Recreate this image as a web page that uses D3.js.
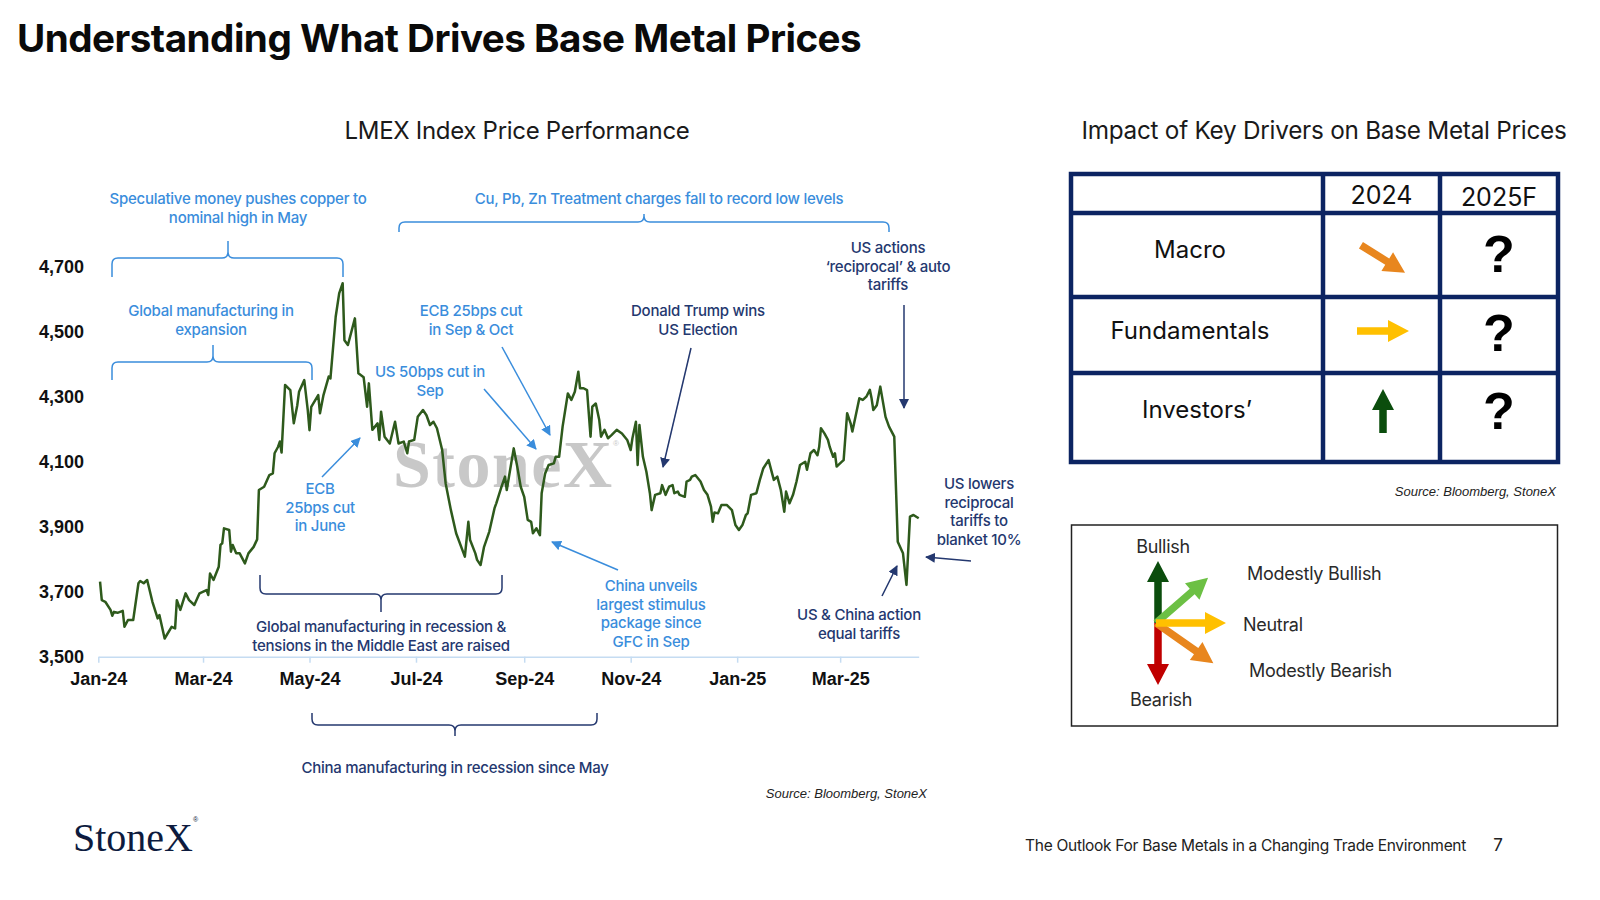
<!DOCTYPE html>
<html lang="en">
<head>
<meta charset="UTF-8"/>
<title>Understanding What Drives Base Metal Prices</title>
<script src="https://d3js.org/d3.v7.min.js"></script>
<style>
  body { margin: 0; background: #fff; }
  svg { display: block; }
</style>
</head>
<body>
<script>

var w = 1600;
var h = 900;

// LMEX index level (date, index)
var lmex = [
  ["2024-01-02",3731],["2024-01-03",3674],["2024-01-05",3669],["2024-01-08",3644],["2024-01-09",3626],
  ["2024-01-10",3638],["2024-01-12",3635],["2024-01-15",3641],["2024-01-16",3592],["2024-01-18",3613],
  ["2024-01-21",3613],["2024-01-24",3726],["2024-01-25",3733],["2024-01-27",3726],["2024-01-29",3736],
  ["2024-02-01",3669],["2024-02-04",3618],["2024-02-05",3628],["2024-02-08",3556],["2024-02-12",3592],
  ["2024-02-14",3587],["2024-02-15",3674],["2024-02-17",3644],["2024-02-20",3695],["2024-02-22",3674],
  ["2024-02-25",3659],["2024-02-28",3695],["2024-03-03",3705],["2024-03-04",3690],["2024-03-05",3756],
  ["2024-03-07",3736],["2024-03-10",3777],["2024-03-11",3844],["2024-03-12",3849],["2024-03-13",3895],
  ["2024-03-16",3890],["2024-03-17",3823],["2024-03-18",3844],["2024-03-20",3818],["2024-03-22",3818],
  ["2024-03-25",3787],["2024-03-27",3818],["2024-03-30",3838],["2024-04-01",3861],["2024-04-02",4013],
  ["2024-04-05",4023],["2024-04-08",4059],["2024-04-10",4064],["2024-04-11",4126],["2024-04-13",4146],
  ["2024-04-14",4162],["2024-04-15",4128],["2024-04-17",4336],["2024-04-20",4320],["2024-04-22",4218],
  ["2024-04-24",4274],["2024-04-25",4315],["2024-04-28",4351],["2024-04-30",4259],["2024-05-01",4197],
  ["2024-05-02",4269],["2024-05-06",4305],["2024-05-07",4249],["2024-05-09",4305],["2024-05-12",4362],
  ["2024-05-13",4356],["2024-05-16",4546],["2024-05-18",4618],["2024-05-20",4649],["2024-05-21",4474],
  ["2024-05-23",4459],["2024-05-27",4541],["2024-05-29",4372],["2024-06-01",4360],["2024-06-03",4269],
  ["2024-06-04",4341],["2024-06-06",4198],["2024-06-09",4218],["2024-06-10",4167],["2024-06-11",4254],
  ["2024-06-13",4177],["2024-06-16",4156],["2024-06-19",4223],["2024-06-21",4156],["2024-06-24",4162],
  ["2024-06-26",4126],["2024-06-27",4162],["2024-06-30",4167],["2024-07-02",4238],["2024-07-05",4259],
  ["2024-07-07",4243],["2024-07-09",4213],["2024-07-11",4223],["2024-07-13",4203],["2024-07-16",4136],
  ["2024-07-18",4033],["2024-07-21",3951],["2024-07-24",3880],["2024-07-29",3808],["2024-07-31",3915],
  ["2024-08-01",3859],["2024-08-04",3818],["2024-08-05",3798],["2024-08-07",3782],["2024-08-09",3838],
  ["2024-08-12",3885],["2024-08-15",3957],["2024-08-16",3972],["2024-08-19",4023],["2024-08-21",4054],
  ["2024-08-22",4013],["2024-08-26",4141],["2024-08-28",4085],["2024-08-30",4023],["2024-09-01",3992],
  ["2024-09-03",3921],["2024-09-05",3915],["2024-09-06",3880],["2024-09-08",3895],["2024-09-10",3874],
  ["2024-09-11",4003],["2024-09-13",4064],["2024-09-15",4090],["2024-09-18",4095],["2024-09-19",4115],
  ["2024-09-21",4115],["2024-09-23",4208],["2024-09-26",4310],["2024-09-28",4290],["2024-09-30",4315],
  ["2024-10-02",4377],["2024-10-03",4326],["2024-10-05",4326],["2024-10-07",4320],["2024-10-09",4177],
  ["2024-10-10",4269],["2024-10-12",4279],["2024-10-14",4228],["2024-10-15",4177],["2024-10-17",4198],
  ["2024-10-19",4172],["2024-10-21",4182],["2024-10-24",4198],["2024-10-27",4187],["2024-10-30",4167],
  ["2024-11-01",4136],["2024-11-02",4172],["2024-11-04",4223],["2024-11-05",4090],["2024-11-06",4213],
  ["2024-11-08",4115],["2024-11-10",4069],["2024-11-12",4003],["2024-11-13",3951],["2024-11-15",3998],
  ["2024-11-18",4003],["2024-11-19",4028],["2024-11-21",3998],["2024-11-23",4023],["2024-11-25",4028],
  ["2024-11-26",4003],["2024-11-28",4008],["2024-11-29",3998],["2024-12-02",3992],["2024-12-03",4039],
  ["2024-12-05",4044],["2024-12-06",4054],["2024-12-08",4059],["2024-12-11",4039],["2024-12-13",4013],
  ["2024-12-15",3998],["2024-12-17",3962],["2024-12-18",3915],["2024-12-19",3944],["2024-12-21",3941],
  ["2024-12-23",3967],["2024-12-26",3967],["2024-12-29",3951],["2024-12-31",3905],["2025-01-02",3890],
  ["2025-01-04",3905],["2025-01-06",3936],["2025-01-07",3941],["2025-01-09",3998],["2025-01-12",4003],
  ["2025-01-14",4044],["2025-01-16",4080],["2025-01-19",4105],["2025-01-21",4064],["2025-01-22",4044],
  ["2025-01-24",4054],["2025-01-26",4013],["2025-01-28",3946],["2025-01-29",4008],["2025-01-31",3972],
  ["2025-02-02",3998],["2025-02-04",4039],["2025-02-06",4090],["2025-02-09",4100],["2025-02-10",4075],
  ["2025-02-12",4126],["2025-02-14",4136],["2025-02-16",4120],["2025-02-17",4146],["2025-02-18",4203],
  ["2025-02-20",4187],["2025-02-22",4167],["2025-02-23",4146],["2025-02-25",4115],["2025-02-26",4126],
  ["2025-02-27",4085],["2025-03-02",4100],["2025-03-03",4105],["2025-03-05",4249],["2025-03-07",4218],
  ["2025-03-08",4193],["2025-03-09",4218],["2025-03-12",4295],["2025-03-14",4290],["2025-03-16",4300],
  ["2025-03-18",4321],["2025-03-19",4295],["2025-03-20",4259],["2025-03-22",4274],["2025-03-24",4331],
  ["2025-03-27",4238],["2025-03-29",4208],["2025-04-01",4177],["2025-04-03",3854],["2025-04-06",3818],
  ["2025-04-08",3721],["2025-04-10",3931],["2025-04-12",3936],["2025-04-15",3926]
];

var yTicks = [3500, 3700, 3900, 4100, 4300, 4500, 4700];
var xStart = "2024-01-01";
var xEnd = "2025-04-15";

// driver table
var driverNames = ["Macro", "Fundamentals", "Investors\u2019"];
var driverYears = ["2024", "2025F"];
var driver2024 = ["modBearish", "neutral", "bullish"];
var driver2025 = ["?", "?", "?"];

// legend
var signalKeys   = ["bullish", "bearish", "modBullish", "modBearish", "neutral"];
var signalLabels = ["Bullish", "Bearish", "Modestly Bullish", "Modestly Bearish", "Neutral"];
var signalAngles = [-90, 90, -41, 35, 0];
var signalColors = ["#0b4d0d", "#c00000", "#6cc044", "#e8861e", "#ffc000"];

var blue = "#3a8ddc";
var navy = "#24386f";

var parse = d3.timeParse("%Y-%m-%d");
var series = lmex.map(function(d){ return {date: parse(d[0]), value: d[1]}; });

var svg = d3.select("body").append("svg")
            .attr("width", w)
            .attr("height", h);

var defs = svg.append("defs");
[["headBlue", blue], ["headNavy", navy]].forEach(function(m){
  defs.append("marker")
      .attr("id", m[0])
      .attr("viewBox", "0 0 10 10")
      .attr("refX", 9).attr("refY", 5)
      .attr("markerUnits", "userSpaceOnUse")
      .attr("markerWidth", 10).attr("markerHeight", 10)
      .attr("orient", "auto")
    .append("path")
      .attr("d", "M0,0 L10,5 L0,10 z")
      .attr("fill", m[1]);
});

//Title + panel headings
svg.append("text")
   .attr("x", 17).attr("y", 52)
   .attr("font-family", "Inter").attr("font-weight", 700)
   .attr("font-size", 38.6).attr("letter-spacing", -0.5)
   .attr("fill", "#0a0a0a")
   .text("Understanding What Drives Base Metal Prices");

svg.append("text")
   .attr("x", 517).attr("y", 139)
   .attr("text-anchor", "middle")
   .attr("font-family", "Inter").attr("font-size", 24)
   .attr("letter-spacing", -0.3)
   .attr("fill", "#1a1a1a")
   .text("LMEX Index Price Performance");

svg.append("text")
   .attr("x", 1324).attr("y", 139)
   .attr("text-anchor", "middle")
   .attr("font-family", "Inter").attr("font-size", 24.3)
   .attr("letter-spacing", -0.25)
   .attr("fill", "#1a1a1a")
   .text("Impact of Key Drivers on Base Metal Prices");

//Scales
var xScale = d3.scaleTime()
               .domain([parse(xStart), parse(xEnd)])
               .range([98.3, 918.7]);

var yScale = d3.scaleLinear()
               .domain([3500, 4700])
               .range([656.7, 266.7]);

//watermark behind the line
svg.append("text")
   .attr("x", 393).attr("y", 487)
   .attr("font-family", "Liberation Serif").attr("font-weight", 700)
   .attr("font-size", 68).attr("letter-spacing", 1.5)
   .attr("fill", "#c8c8c8")
   .text("StoneX");
svg.append("text")
   .attr("x", 613).attr("y", 446)
   .attr("font-family", "Liberation Sans").attr("font-size", 8)
   .attr("fill", "#c8c8c8")
   .text("\u00ae");

//Axes
var xAxis = d3.axisBottom(xScale)
              .ticks(d3.timeMonth.every(2))
              .tickFormat(d3.timeFormat("%b-%y"))
              .tickSizeInner(6).tickSizeOuter(0)
              .tickPadding(10);

var gx = svg.append("g")
   .attr("transform", "translate(0," + yScale(3500) + ")")
   .call(xAxis);
gx.select(".domain").attr("stroke", "#c5dcf2").attr("stroke-width", 1.5);
gx.selectAll(".tick line").attr("stroke", "#c5dcf2").attr("stroke-width", 1.5);
gx.selectAll("text")
  .attr("font-family", "Liberation Sans").attr("font-weight", 700)
  .attr("font-size", 18).attr("fill", "#111");

var yAxis = d3.axisLeft(yScale)
              .tickValues(yTicks)
              .tickFormat(d3.format(","))
              .tickSize(0).tickPadding(2);

var gy = svg.append("g")
   .attr("transform", "translate(86,0)")
   .call(yAxis);
gy.select(".domain").remove();
gy.selectAll("text")
  .attr("font-family", "Liberation Sans").attr("font-weight", 700)
  .attr("font-size", 18).attr("fill", "#111");

//price line
var line = d3.line()
             .x(function(d){ return xScale(d.date); })
             .y(function(d){ return yScale(d.value); });

svg.append("path")
   .datum(series)
   .attr("d", line)
   .attr("fill", "none")
   .attr("stroke", "#2e5a1c")
   .attr("stroke-width", 2.5)
   .attr("stroke-linejoin", "round");

//helpers for annotations
function label(cx, y0, lines, color, size){
  var t = svg.append("text")
     .attr("text-anchor", "middle")
     .attr("font-family", "Inter").attr("font-weight", 500)
     .attr("font-size", size || 15).attr("letter-spacing", -0.25)
     .attr("fill", color);
  lines.forEach(function(s, i){
    t.append("tspan").attr("x", cx).attr("y", y0 + i * 18.5).attr("dy", "0.35em").text(s);
  });
}

function brace(x1, x2, yH, endY, nubX, nubY, color){
  var r = 6;
  var se = endY > yH ? 1 : -1;
  var sn = nubY > yH ? 1 : -1;
  var p = d3.path();
  p.moveTo(x1, endY);
  p.lineTo(x1, yH + se * r);
  p.quadraticCurveTo(x1, yH, x1 + r, yH);
  p.lineTo(nubX - r, yH);
  p.quadraticCurveTo(nubX, yH, nubX, yH + sn * r);
  p.lineTo(nubX, nubY);
  p.moveTo(nubX, yH + sn * r);
  p.quadraticCurveTo(nubX, yH, nubX + r, yH);
  p.lineTo(x2 - r, yH);
  p.quadraticCurveTo(x2, yH, x2, yH + se * r);
  p.lineTo(x2, endY);
  svg.append("path").attr("d", p.toString())
     .attr("fill", "none").attr("stroke", color).attr("stroke-width", 1.5);
}

function pointer(x1, y1, x2, y2, color, marker){
  svg.append("line")
     .attr("x1", x1).attr("y1", y1).attr("x2", x2).attr("y2", y2)
     .attr("stroke", color).attr("stroke-width", 1.5)
     .attr("marker-end", "url(#" + marker + ")");
}

//blue notes
label(238, 199, ["Speculative money pushes copper to", "nominal high in May"], blue);
brace(112, 343, 258, 277, 228, 241, blue);
label(211, 311, ["Global manufacturing in", "expansion"], blue);
brace(112, 312, 362, 380, 213, 345, blue);
label(659, 199, ["Cu, Pb, Zn Treatment charges fall to record low levels"], blue);
brace(399, 889, 222, 232, 644, 214, blue);
label(471, 311, ["ECB 25bps cut", "in Sep & Oct"], blue);
pointer(502, 347, 550, 435, blue, "headBlue");
label(430, 372, ["US 50bps cut in", "Sep"], blue);
pointer(484, 389, 536, 449, blue, "headBlue");
label(320, 489, ["ECB", "25bps cut", "in June"], blue);
pointer(322, 477, 360, 438, blue, "headBlue");
label(651, 586, ["China unveils", "largest stimulus", "package since", "GFC in Sep"], blue);
pointer(618, 570, 552, 542, blue, "headBlue");

//navy notes
label(698, 311, ["Donald Trump wins", "US Election"], navy);
pointer(691, 348, 663, 467, navy, "headNavy");
label(888, 248, ["US actions", "\u2018reciprocal\u2019 & auto", "tariffs"], navy);
pointer(904, 305, 904, 408, navy, "headNavy");
label(979, 484, ["US lowers", "reciprocal", "tariffs to", "blanket 10%"], navy);
pointer(971, 561, 926, 557, navy, "headNavy");
label(859, 615, ["US & China action", "equal tariffs"], navy);
pointer(882, 596, 897, 566, navy, "headNavy");
brace(260, 502, 594, 575, 381, 612, navy);
label(381, 627, ["Global manufacturing in recession &", "tensions in the Middle East are raised"], navy);
brace(312, 597, 725, 713, 455, 736, navy);
label(455, 768, ["China manufacturing in recession since May"], navy);

svg.append("text")
   .attr("x", 927).attr("y", 798).attr("text-anchor", "end")
   .attr("font-family", "Liberation Sans").attr("font-style", "italic")
   .attr("font-size", 13).attr("fill", "#222")
   .text("Source: Bloomberg, StoneX");

//block arrow for drivers / legend
function blockArrow(x0, y0, len, angle, color, shaft, headW, headL){
  var pts = [[0, -shaft/2], [len - headL, -shaft/2], [len - headL, -headW/2], [len, 0],
             [len - headL, headW/2], [len - headL, shaft/2], [0, shaft/2]];
  svg.append("polygon")
     .attr("points", pts.map(function(p){ return p.join(","); }).join(" "))
     .attr("transform", "translate(" + x0 + "," + y0 + ") rotate(" + angle + ")")
     .attr("fill", color);
}

//Driver table
var tbl = {x0: 1071, x1: 1323, x2: 1440, x3: 1558, y0: 174, y1: 213, y2: 297, y3: 373, y4: 462};
var rowMid = [251, 332, 411];
var tableNavy = "#0c2462";

svg.append("rect")
   .attr("x", tbl.x0).attr("y", tbl.y0)
   .attr("width", tbl.x3 - tbl.x0).attr("height", tbl.y4 - tbl.y0)
   .attr("fill", "none").attr("stroke", tableNavy).attr("stroke-width", 4.5);

[tbl.x1, tbl.x2].forEach(function(x){
  svg.append("line").attr("x1", x).attr("x2", x).attr("y1", tbl.y0).attr("y2", tbl.y4)
     .attr("stroke", tableNavy).attr("stroke-width", 4.5);
});
[tbl.y1, tbl.y2, tbl.y3].forEach(function(y){
  svg.append("line").attr("x1", tbl.x0).attr("x2", tbl.x3).attr("y1", y).attr("y2", y)
     .attr("stroke", tableNavy).attr("stroke-width", 4.5);
});

svg.selectAll(".yearHead")
   .data(driverYears)
   .enter()
   .append("text")
   .attr("x", function(d, i){ return i === 0 ? (tbl.x1 + tbl.x2) / 2 : (tbl.x2 + tbl.x3) / 2; })
   .attr("y", function(d, i){ return i === 0 ? 195 : 197; })
   .attr("dy", "0.36em")
   .attr("text-anchor", "middle")
   .attr("font-family", "Inter").attr("font-size", 25)
   .attr("fill", "#111")
   .text(function(d){ return d; });

svg.selectAll(".driverName")
   .data(driverNames)
   .enter()
   .append("text")
   .attr("x", function(d, i){ return i === 2 ? 1197 : 1190; })
   .attr("y", function(d, i){ return rowMid[i] - 2; })
   .attr("dy", "0.36em")
   .attr("text-anchor", "middle")
   .attr("font-family", "Inter").attr("font-size", 24)
   .attr("fill", "#111")
   .text(function(d){ return d; });

var arrowCx = 1383;
driver2024.forEach(function(k, i){
  var j = signalKeys.indexOf(k);
  var len = k === "bullish" ? 44 : 52;
  var a = signalAngles[j] === -41 || signalAngles[j] === 35 ? 32 : signalAngles[j];
  var rad = a * Math.PI / 180;
  var cy = [259, 331, 411][i];
  blockArrow(arrowCx - Math.cos(rad) * len / 2, cy - Math.sin(rad) * len / 2,
             len, a, signalColors[j], 7.5, 22, 21);
});

svg.selectAll(".q")
   .data(driver2025)
   .enter()
   .append("text")
   .attr("x", (tbl.x2 + tbl.x3) / 2)
   .attr("y", function(d, i){ return [253, 332, 410][i]; })
   .attr("dy", "0.36em")
   .attr("text-anchor", "middle")
   .attr("font-family", "Liberation Sans").attr("font-weight", 700)
   .attr("font-size", 52).attr("fill", "#000")
   .text(function(d){ return d; });

svg.append("text")
   .attr("x", 1556).attr("y", 496).attr("text-anchor", "end")
   .attr("font-family", "Liberation Sans").attr("font-style", "italic")
   .attr("font-size", 13).attr("fill", "#222")
   .text("Source: Bloomberg, StoneX");

//Legend
svg.append("rect")
   .attr("x", 1071.5).attr("y", 525)
   .attr("width", 486).attr("height", 201)
   .attr("fill", "none").attr("stroke", "#222").attr("stroke-width", 1.5);

var legCx = 1156, legCy = 623;
var legLen = [62, 62, 69, 70, 70];
var legLabelPos = [[1163, 547, "middle"], [1161, 700, "middle"], [1247, 574, "start"],
                   [1249, 671, "start"], [1243, 625, "start"]];
signalKeys.forEach(function(k, i){
  var ox = (k === "bullish" || k === "bearish") ? 2 : 0;
  blockArrow(legCx + ox, legCy, legLen[i], signalAngles[i], signalColors[i], 7.5, 22, 21);
});
svg.selectAll(".legLabel")
   .data(signalLabels)
   .enter()
   .append("text")
   .attr("x", function(d, i){ return legLabelPos[i][0]; })
   .attr("y", function(d, i){ return legLabelPos[i][1]; })
   .attr("dy", "0.36em")
   .attr("text-anchor", function(d, i){ return legLabelPos[i][2]; })
   .attr("font-family", "Inter").attr("font-size", 18)
   .attr("letter-spacing", -0.3)
   .attr("fill", "#2a2a2a")
   .text(function(d){ return d; });

//Footer
svg.append("text")
   .attr("x", 73).attr("y", 851)
   .attr("font-family", "Liberation Serif")
   .attr("font-size", 40).attr("fill", "#0d1b3e")
   .text("StoneX");
svg.append("text")
   .attr("x", 193).attr("y", 822)
   .attr("font-family", "Liberation Sans").attr("font-size", 7)
   .attr("fill", "#0d1b3e")
   .text("\u00ae");

svg.append("text")
   .attr("x", 1466).attr("y", 851).attr("text-anchor", "end")
   .attr("font-family", "Inter").attr("font-size", 15.5)
   .attr("letter-spacing", -0.3)
   .attr("fill", "#222")
   .text("The Outlook For Base Metals in a Changing Trade Environment");

svg.append("text")
   .attr("x", 1498).attr("y", 851).attr("text-anchor", "middle")
   .attr("font-family", "Inter").attr("font-size", 17)
   .attr("fill", "#222")
   .text("7");

</script>
</body>
</html>
